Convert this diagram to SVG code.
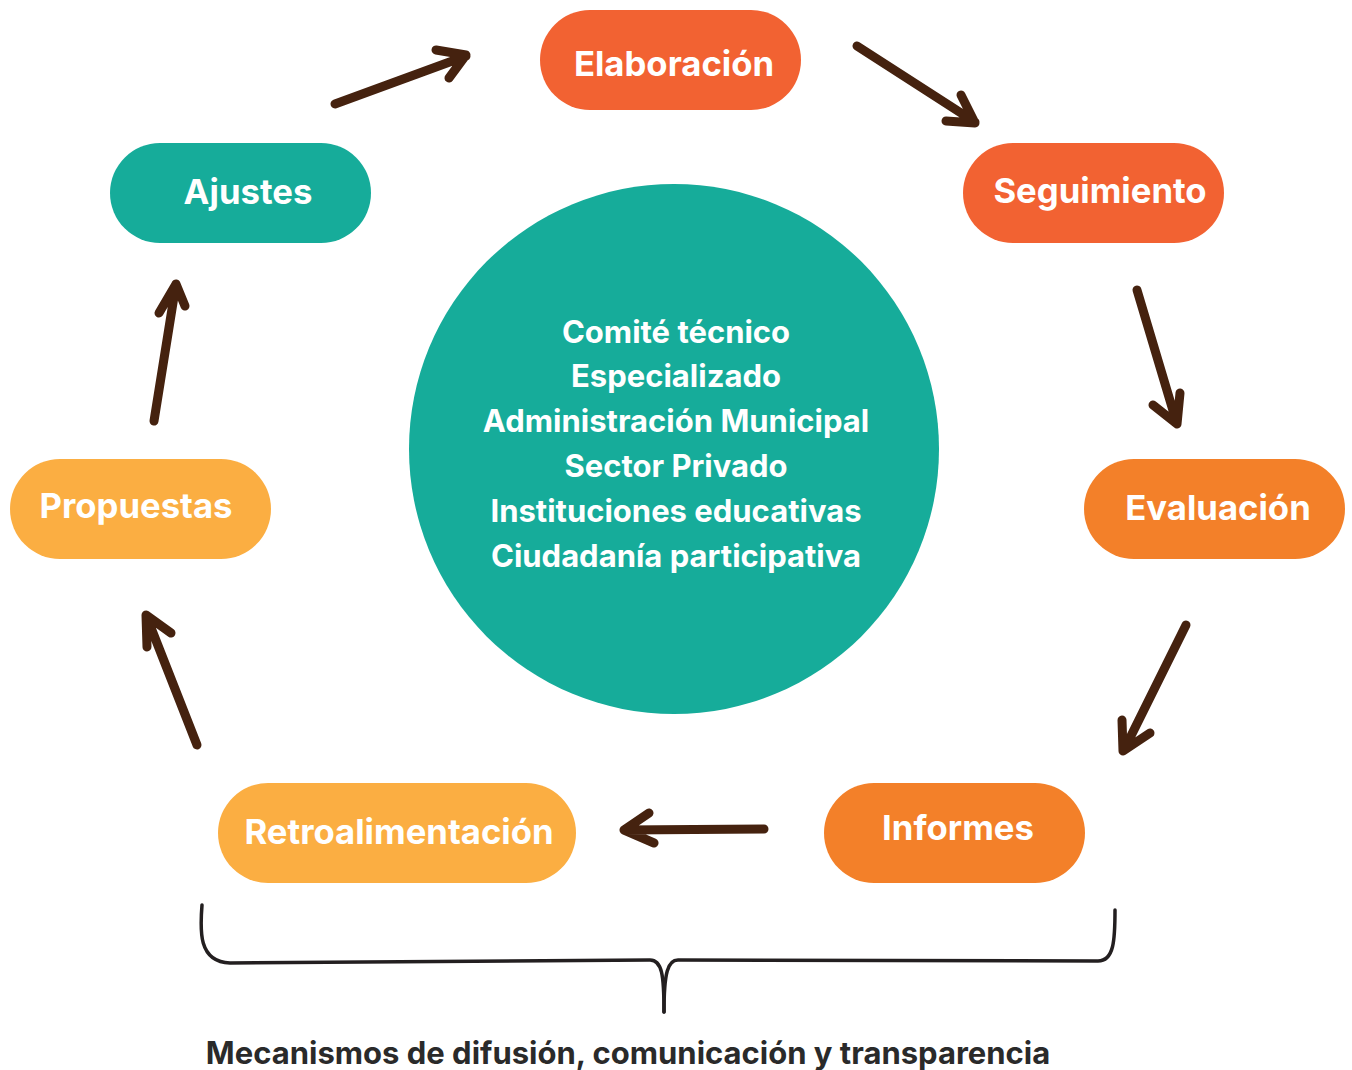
<svg xmlns="http://www.w3.org/2000/svg" width="1352" height="1070" viewBox="0 0 1352 1070">
<style>
.lbl{font-family:Inter,"Noto Sans","Liberation Sans",sans-serif;font-weight:700;fill:#ffffff;text-anchor:middle}
.node{font-size:34.7px}
.ctr{font-size:31px}
.arr{fill:none;stroke:#45220f;stroke-width:9;stroke-linecap:round;stroke-linejoin:round}
.brace{fill:none;stroke:#231f20;stroke-width:3.5;stroke-linecap:round}
.cap{font-family:Inter,"Noto Sans","Liberation Sans",sans-serif;font-weight:700;font-size:31px;fill:#2a2a2a;text-anchor:middle}
</style>
<rect width="1352" height="1070" fill="#ffffff"/>
<g id="centro">
<circle cx="674" cy="449" r="265" fill="#16ac9a"/>
<text class="lbl ctr" x="676" y="343">Comité técnico</text>
<text class="lbl ctr" x="676" y="387">Especializado</text>
<text class="lbl ctr" x="676" y="432">Administración Municipal</text>
<text class="lbl ctr" x="676" y="477">Sector Privado</text>
<text class="lbl ctr" x="676" y="522">Instituciones educativas</text>
<text class="lbl ctr" x="676" y="567">Ciudadanía participativa</text>
</g>
<g id="elaboracion">
<rect x="540" y="10" width="261" height="100" rx="50" fill="#f26232"/>
<text class="lbl node" x="674" y="76">Elaboración</text>
</g>
<g id="seguimiento">
<rect x="963" y="143" width="261" height="100" rx="50" fill="#f26232"/>
<text class="lbl node" x="1100" y="203">Seguimiento</text>
</g>
<g id="evaluacion">
<rect x="1084" y="459" width="261" height="100" rx="50" fill="#f38029"/>
<text class="lbl node" x="1218" y="520">Evaluación</text>
</g>
<g id="informes">
<rect x="824" y="783" width="261" height="100" rx="50" fill="#f38029"/>
<text class="lbl node" x="958" y="840">Informes</text>
</g>
<g id="retroalimentacion">
<rect x="218" y="783" width="358" height="100" rx="50" fill="#fbae42"/>
<text class="lbl node" x="399" y="844">Retroalimentación</text>
</g>
<g id="propuestas">
<rect x="10" y="459" width="261" height="100" rx="50" fill="#fbae42"/>
<text class="lbl node" x="136" y="518">Propuestas</text>
</g>
<g id="ajustes">
<rect x="110" y="143" width="261" height="100" rx="50" fill="#16ac9a"/>
<text class="lbl node" x="248" y="204">Ajustes</text>
</g>
<g id="conectores">
<path class="arr" d="M335,104 L466,56 M436,50 L466,55 L449,78"/>
<path class="arr" d="M857,46 L975,122 M961,95 L975,123 L946,121"/>
<path class="arr" d="M1137,290 L1177,424 M1153,405 L1177,424 L1180,393"/>
<path class="arr" d="M1186,625 L1124,750 M1122,720 L1123,751 L1150,733"/>
<path class="arr" d="M764,829 L624,830 M649,813 L624,830 L654,843"/>
<path class="arr" d="M197,745 L146,615 M147,647 L146,615 L171,633"/>
<path class="arr" d="M154,421 L176,284 M159,313 L176,284 L185,306"/>
<g id="llave">
<path class="brace" d="M202,905 C200,930 198,962 230,963 L650,960 C662,960 664,975 664,1012"/>
<path class="brace" d="M1115,910 C1115,940 1114,961 1098,961 L678,960 C668,960 664,972 664,1012"/>
</g>
</g>
<text class="cap" x="628" y="1064">Mecanismos de difusión, comunicación y transparencia</text>
</svg>
